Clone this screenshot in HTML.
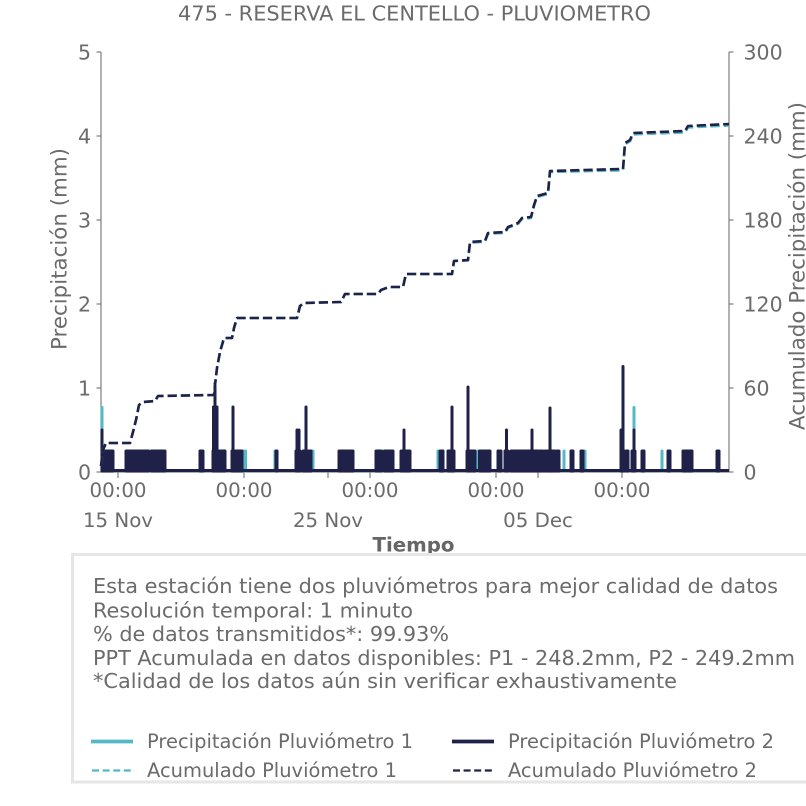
<!DOCTYPE html>
<html>
<head>
<meta charset="utf-8">
<style>
  html, body { margin:0; padding:0; background:#ffffff; }
  svg { display:block; }
  text { font-family: "DejaVu Sans", "Liberation Sans", sans-serif; fill:#6b6b6b; }
</style>
</head>
<body>
<svg width="806" height="806" viewBox="0 0 806 806" xmlns="http://www.w3.org/2000/svg">
  <rect x="0" y="0" width="806" height="806" fill="#ffffff"/>

  <!-- Title -->
  <text x="414.5" y="20.7" font-size="20.7" text-anchor="middle" textLength="473" lengthAdjust="spacingAndGlyphs">475 - RESERVA EL CENTELLO - PLUVIOMETRO</text>

  <!-- Spines -->
  <g stroke="#7f7f7f" stroke-width="1.2" fill="none">
    <line x1="101" y1="52" x2="101" y2="472.5"/>
    <line x1="729" y1="52" x2="729" y2="472.5"/>
    <line x1="101" y1="472" x2="729" y2="472"/>
    <line x1="96.5" y1="52" x2="101" y2="52"/>
    <line x1="96.5" y1="136" x2="101" y2="136"/>
    <line x1="96.5" y1="220" x2="101" y2="220"/>
    <line x1="96.5" y1="304" x2="101" y2="304"/>
    <line x1="96.5" y1="388" x2="101" y2="388"/>
    <line x1="96.5" y1="472" x2="101" y2="472"/>
    <line x1="729" y1="52" x2="733.5" y2="52"/>
    <line x1="729" y1="136" x2="733.5" y2="136"/>
    <line x1="729" y1="220" x2="733.5" y2="220"/>
    <line x1="729" y1="304" x2="733.5" y2="304"/>
    <line x1="729" y1="388" x2="733.5" y2="388"/>
    <line x1="729" y1="472" x2="733.5" y2="472"/>
    <line x1="118" y1="472" x2="118" y2="478"/>
    <line x1="244" y1="472" x2="244" y2="478"/>
    <line x1="370" y1="472" x2="370" y2="478"/>
    <line x1="496" y1="472" x2="496" y2="478"/>
    <line x1="622" y1="472" x2="622" y2="478"/>
    <line x1="328" y1="472" x2="328" y2="478"/>
    <line x1="538" y1="472" x2="538" y2="478"/>
  </g>

  <!-- Left tick labels -->
  <g font-size="20.5" text-anchor="end">
    <text x="91" y="59.5">5</text>
    <text x="91" y="143.5">4</text>
    <text x="91" y="227.5">3</text>
    <text x="91" y="311.5">2</text>
    <text x="91" y="395.5">1</text>
    <text x="91" y="479.5">0</text>
  </g>
  <!-- Right tick labels -->
  <g font-size="20.5" text-anchor="start">
    <text x="743.5" y="59.5">300</text>
    <text x="743.5" y="143.5">240</text>
    <text x="743.5" y="227.5">180</text>
    <text x="743.5" y="311.5">120</text>
    <text x="743.5" y="395.5">60</text>
    <text x="743.5" y="479.5">0</text>
  </g>
  <!-- X tick labels -->
  <g font-size="19.8" text-anchor="middle">
    <text x="118" y="497">00:00</text>
    <text x="244" y="497">00:00</text>
    <text x="370" y="497">00:00</text>
    <text x="496" y="497">00:00</text>
    <text x="622" y="497">00:00</text>
    <text x="118" y="527">15 Nov</text>
    <text x="328" y="527">25 Nov</text>
    <text x="538" y="527">05 Dec</text>
  </g>

  <!-- Axis labels -->
  <text transform="translate(66.7,249) rotate(-90)" font-size="21" text-anchor="middle" textLength="202" lengthAdjust="spacingAndGlyphs">Precipitación (mm)</text>
  <text transform="translate(804.5,266) rotate(-90)" font-size="21.3" text-anchor="middle" textLength="328" lengthAdjust="spacingAndGlyphs">Acumulado Precipitación (mm)</text>
  <text x="413.5" y="551.5" font-size="19.8" font-weight="bold" text-anchor="middle" style="fill:#666666">Tiempo</text>

  <!-- Teal (P1) spikes -->
  <g stroke="#55b8c5" stroke-width="3" stroke-linecap="round" fill="none">
    <path d="M102 471V407.5 M150 471V451 M244 471V451 M245.5 471V451 M275 471V451 M313 471V451 M383 471V451 M438 471V451 M478 471V451 M564 471V451 M585 471V451 M634 471V407.5 M662 471V451"/>
  </g>

  <!-- Dark (P2) clusters & spikes -->
  <g stroke="#1f2148" stroke-width="3" stroke-linecap="round" stroke-linejoin="round" fill="#1f2148">
    <path d="M103 471V451H113V471Z M126 471V451H148.5V471Z M151.5 471V451H165V471Z M200 471V451H203V471Z M213 471V451H225V471Z M232 471V451H242V471Z M276 471V451H277V471Z M296 471V451H300V471Z M303 471V451H311V471Z M339 471V451H353V471Z M376 471V451H381.5V471Z M384.5 471V451H393V471Z M401 471V451H410V471Z M440 471V451H443V471Z M448 471V451H454V471Z M467 471V451H475V471Z M479.5 471V451H490V471Z M498 471V451H501V471Z M505 471V451H508V471Z M511 471V451H543V471Z M545 471V451H555V471Z M557 471V451H559V471Z M571 471V451H573V471Z M581 471V451H583V471Z M621 471V451H624V471Z M626 471V451H628V471Z M632 471V451H635V471Z M642 471V451H644V471Z M668 471V451H670V471Z M683 471V451H692V471Z M717 471V451H719V471Z"/>
    <path fill="none" d="M102 471V430 M213.5 471V407 M215 471V383.5 M217 471V407 M233 471V407 M297 471V430 M299 471V430 M306 471V407 M404 471V430 M452 471V407 M468 471V387 M506.5 471V430 M532 471V430 M550 471V408 M621 471V430 M623 471V366.5 M634 471V430"/>
    <path fill="none" stroke-linecap="butt" d="M101 470.5H729"/>
  </g>

  <!-- Cumulative lines -->
  <g fill="none" stroke-width="2.6" stroke-dasharray="9.25 4" stroke-linejoin="round">
    <path stroke="#55b8c5" d="M101 466 L103 450 L106 443 L130 443 L133 432 L136 420 L139 405 L143 402 L155 401 L158 396 L214 395 L215 385 L217 368 L220 352 L224 338 L232 338 L234 328 L237 318 L297 318 L300 306 L304 303 L341 302 L345 294 L378 294 L381 290 L389 287 L403 287 L406 274 L452 274 L454 261 L468 260.5 L470 242.7 L485 241.7 L488 233.7 L505 232.8 L508 227.8 L518 223.8 L522 218.9 L531 217.9 L534 206 L537 197 L548 194 L550 172 L623 170.2 L625 144.3 L630 141.3 L633 134.4 L685 132.4 L688 127.4 L729 125.4"/>
    <path stroke="#1f2148" d="M101 466 L103 450 L106 443 L130 443 L133 432 L136 420 L139 405 L143 402 L155 401 L158 396 L214 395 L215 385 L217 368 L220 352 L224 338 L232 338 L234 328 L237 318 L297 318 L300 306 L304 303 L341 302 L345 294 L378 294 L381 290 L389 287 L403 287 L406 274 L452 274 L454 261 L468 260 L470 242 L485 241 L488 233 L505 232 L508 227 L518 223 L522 218 L531 217 L534 205 L537 196 L548 193 L550 171 L623 169 L625 143 L630 140 L633 133 L685 131 L688 126 L729 124"/>
  </g>

  <!-- Info / legend box -->
  <rect x="72.5" y="554.5" width="760" height="227.5" fill="#ffffff" stroke="#e6e6e6" stroke-width="3"/>
  <g font-size="20.8">
    <text x="93" y="593" textLength="685" lengthAdjust="spacingAndGlyphs">Esta estación tiene dos pluviómetros para mejor calidad de datos</text>
    <text x="93" y="617.5" textLength="320" lengthAdjust="spacingAndGlyphs">Resolución temporal: 1 minuto</text>
    <text x="93" y="641" textLength="356" lengthAdjust="spacingAndGlyphs">% de datos transmitidos*: 99.93%</text>
    <text x="93" y="665" textLength="702" lengthAdjust="spacingAndGlyphs">PPT Acumulada en datos disponibles: P1 - 248.2mm, P2 - 249.2mm</text>
    <text x="93" y="688" textLength="584" lengthAdjust="spacingAndGlyphs">*Calidad de los datos aún sin verificar exhaustivamente</text>
  </g>

  <!-- Legend entries -->
  <line x1="91" y1="741.5" x2="133" y2="741.5" stroke="#55b8c5" stroke-width="3.7"/>
  <line x1="92" y1="770.5" x2="133" y2="770.5" stroke="#55b8c5" stroke-width="2.2" stroke-dasharray="7 3.6"/>
  <line x1="452" y1="741.5" x2="494" y2="741.5" stroke="#1f2148" stroke-width="3.7"/>
  <line x1="453" y1="770.5" x2="494" y2="770.5" stroke="#1f2148" stroke-width="2.2" stroke-dasharray="7 3.6"/>
  <g font-size="19.4">
    <text x="147" y="748" textLength="266" lengthAdjust="spacingAndGlyphs">Precipitación Pluviómetro 1</text>
    <text x="147" y="777" textLength="250" lengthAdjust="spacingAndGlyphs">Acumulado Pluviómetro 1</text>
    <text x="508" y="748" textLength="266" lengthAdjust="spacingAndGlyphs">Precipitación Pluviómetro 2</text>
    <text x="508" y="777" textLength="249" lengthAdjust="spacingAndGlyphs">Acumulado Pluviómetro 2</text>
  </g>
</svg>
</body>
</html>
